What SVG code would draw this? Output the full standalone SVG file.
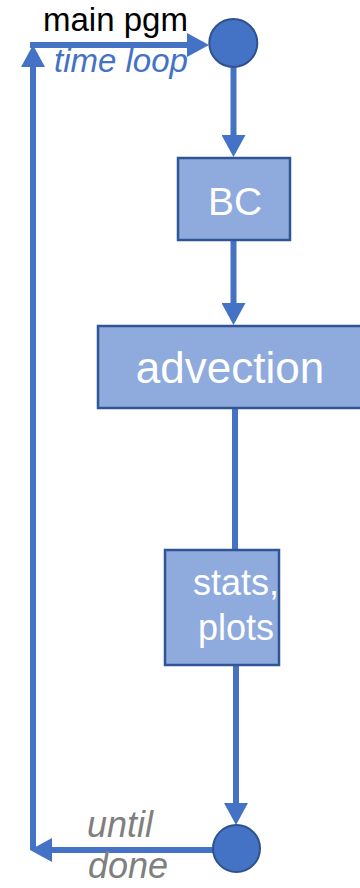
<svg xmlns="http://www.w3.org/2000/svg" width="360" height="888" viewBox="0 0 360 888">
<style>
.conn{stroke:#4472C4;stroke-width:6;fill:none;marker-end:url(#ah)}
.plain{stroke:#4472C4;stroke-width:6;fill:none}
.box{fill:#8FAADC;stroke:#2F5597;stroke-width:2.5}
.dot{fill:#4472C4;stroke:#2F528F;stroke-width:2}
.lbl{font-family:"Liberation Sans",Arial,sans-serif;fill:#FFFFFF;text-anchor:middle}
.txt{font-family:"Liberation Sans",Arial,sans-serif}
</style>
<defs>
<marker id="ah" markerUnits="userSpaceOnUse" viewBox="0 0 22 24" refX="4" refY="12" markerWidth="22" markerHeight="24" orient="auto">
<path d="M0,0 L22,12 L0,24 Z" fill="#4472C4"/>
</marker>
</defs>
<g id="connectors">
<path class="conn" d="M33,850 L33,63"/>
<path class="conn" d="M30,45 L191,45"/>
<path class="conn" d="M233.5,67 L233.5,139"/>
<path class="conn" d="M233.5,240 L233.5,307"/>
<path class="plain" d="M235,408 L235,550"/>
<path class="conn" d="M236,665 L236,807"/>
<path class="conn" d="M213,850 L48,850"/>
</g>
<g id="start">
<circle class="dot" cx="233.3" cy="43" r="24"/>
</g>
<g id="bc">
<rect class="box" x="178" y="158" width="112" height="82"/>
<text class="lbl" x="235" y="215" font-size="39">BC</text>
</g>
<g id="advection">
<rect class="box" x="98" y="326" width="270" height="82"/>
<text class="lbl" x="230" y="383" font-size="44">advection</text>
</g>
<g id="stats">
<rect class="box" x="165" y="550" width="114" height="115"/>
<text class="lbl" x="236" y="595" font-size="36">stats,</text>
<text class="lbl" x="236" y="640" font-size="36">plots</text>
</g>
<g id="end">
<circle class="dot" cx="236.5" cy="848.5" r="23.5"/>
</g>
<g id="labels">
<text class="txt" x="43" y="31" font-size="33" fill="#000000">main pgm</text>
<text class="txt" x="54" y="72" font-size="33" font-style="italic" fill="#4472C4">time loop</text>
<text class="txt" x="87" y="837" font-size="36" font-style="italic" fill="#7F7F7F">until</text>
<text class="txt" x="88" y="878" font-size="36" font-style="italic" fill="#7F7F7F">done</text>
</g>
</svg>
